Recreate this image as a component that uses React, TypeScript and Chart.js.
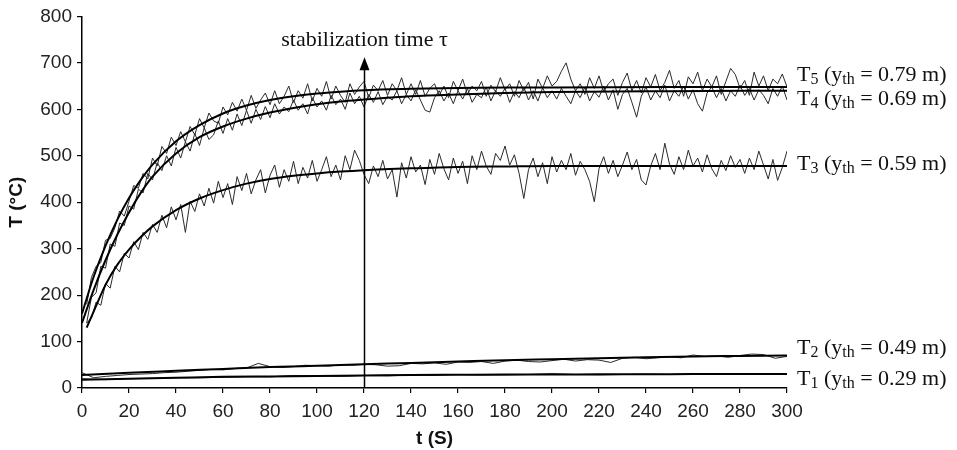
import React, { useEffect, useRef } from "react";
import { Chart, registerables } from "chart.js";

Chart.register(...registerables);

// ---------- data ----------
// measured (noisy) temperatures, sampled every 2 s from t = 2 s to t = 300 s
const NOISE_TIMES = Array.from({ length: 150 }, (_, i) => 2 + 2 * i);

const T5_NOISY = [
  180, 238, 262, 270, 318, 322, 345, 381, 370, 402,
  436, 430, 462, 450, 495, 478, 520, 505, 540, 522,
  552, 530, 563, 545, 580, 560, 592, 575, 570, 605,
  588, 615, 596, 622, 598, 630, 602, 620, 635, 610,
  640, 612, 628, 650, 615, 640, 624, 655, 618, 645,
  628, 660, 622, 650, 630, 615, 655, 632, 648, 660,
  625, 652, 640, 662, 630, 655, 640, 668, 632, 655,
  632, 662, 628, 645, 655, 630, 650, 625, 660, 640,
  665, 632, 650, 640, 660, 628, 652, 638, 668, 642,
  655, 628, 662, 640, 658, 622, 665, 645, 672, 650,
  660, 682, 700, 665, 640, 655, 632, 668, 645, 672,
  638, 655, 665, 630, 658, 678, 640, 662, 635, 668,
  648, 675, 640, 658, 684, 645, 662, 628, 670, 655,
  680, 640, 665, 648, 672, 632, 660, 688, 675, 645,
  662, 630, 680, 650, 672, 640, 665, 655, 676, 648,
];

const T4_NOISY = [
  140, 195, 205, 262, 258, 310, 305, 355, 350, 392,
  385, 428, 420, 462, 448, 485, 468, 500, 478, 518,
  495, 530, 510, 548, 522, 560, 535, 545, 575, 548,
  580, 555, 590, 565, 598, 570, 600, 578, 606, 582,
  612, 590, 605, 595, 620, 598, 612, 590, 625, 605,
  618, 598, 630, 610, 622, 600, 635, 612, 628, 605,
  632, 615, 638, 610, 628, 620, 640, 612, 632, 618,
  642, 620, 598, 594, 625, 640, 618, 635, 612, 640,
  622, 645, 615, 632, 625, 648, 618, 640, 628, 645,
  615, 638, 625, 648, 620, 640, 618, 646, 625, 640,
  622, 645, 628, 612, 640, 625, 648, 618, 638, 626,
  650, 620, 642, 600, 632, 645, 615, 583, 628, 648,
  620, 640, 625, 652, 618, 640, 628, 650, 622, 642,
  612, 596, 635, 648, 625, 645, 618, 640, 628, 652,
  630, 645, 620, 642, 630, 612, 645, 628, 650, 620,
];

const T3_NOISY = [
  140, 150, 185, 178, 225, 215, 262, 250, 290, 280,
  315, 298, 335, 320, 352, 335, 372, 345, 390, 362,
  395, 335, 402, 380, 418, 392, 430, 398, 445, 410,
  440, 395, 455, 425, 462, 418, 448, 470, 420, 458,
  480, 432, 470, 445, 488, 440, 475, 452, 490, 445,
  470, 498, 455, 480, 448, 500, 470, 512, 490, 460,
  440, 478, 455, 490, 450, 470, 411, 485, 452, 498,
  465, 480, 438, 492, 460, 505, 472, 448, 495, 462,
  488, 440, 500, 470, 510, 478, 460, 505, 490, 521,
  480, 502, 462, 408, 470, 495, 455, 485, 440, 498,
  465, 490, 470, 505, 458, 488, 470, 445, 401, 472,
  498, 462, 490, 455, 480, 508, 470, 492, 448, 437,
  478, 505, 470, 527, 482, 460, 498, 470, 512, 478,
  495, 465, 502, 472, 455, 490, 468, 500, 475, 492,
  462, 495, 470, 510, 480, 450, 492, 447, 475, 510,
];

// low thermocouples, sampled every 5 s / 10 s
const T2_NOISY_TIMES = Array.from({ length: 61 }, (_, i) => 5 * i);
const T2_NOISY = [
  33, 22, 25, 27, 29, 30, 31, 33, 34, 36,
  38, 40, 39, 42, 43, 53, 46, 44, 46, 49,
  48, 47, 50, 49, 51, 50, 47, 48, 53, 52,
  54, 51, 56, 55, 57, 53, 58, 60, 57, 56,
  59, 62, 58, 61, 60, 55, 64, 66, 63, 65,
  67, 65, 71, 68, 69, 66, 70, 73, 72, 64,
  68,
];
const T1_NOISY_TIMES = Array.from({ length: 31 }, (_, i) => 10 * i);
const T1_NOISY = [
  20, 18, 20, 21, 22, 22, 23, 24, 24, 27,
  26, 25, 27, 26, 28, 27, 29, 28, 28, 29,
  31, 29, 28, 29, 30, 29, 30, 30, 29, 30,
  30,
];

// fitted curves
const FIT_TIMES = [0, 5, 10, 15, 20, 25, 30, 40, 50, 60, 70, 80, 90, 100, 110, 120, 140, 160, 180, 200, 250, 300];
const T5_FIT = [160, 240, 306, 362, 409, 448, 481, 531, 566, 591, 608, 620, 628, 634, 638, 641, 644, 646, 647, 647, 648, 648];
const T4_FIT = [140, 212, 275, 330, 378, 420, 455, 505, 540, 563, 580, 593, 603, 611, 617, 621, 628, 632, 635, 637, 639, 640];
const T3_FIT_TIMES = [2, 5, 10, 15, 20, 25, 30, 40, 50, 60, 70, 80, 90, 100, 110, 120, 140, 160, 180, 200, 250, 300];
const T3_FIT = [130, 165, 222, 265, 298, 325, 348, 383, 408, 426, 440, 450, 457, 462, 466, 469, 473, 476, 477, 478, 478, 478];
const LOW_FIT_TIMES = [0, 20, 40, 60, 80, 100, 120, 140, 160, 180, 200, 220, 240, 260, 280, 300];
const T2_FIT = [28, 33, 37, 41, 45, 48, 51, 54, 57, 60, 62, 64, 66, 68, 69, 70];
const T1_FIT = [18, 20, 22, 24, 25, 26, 27, 28, 28.5, 29, 29, 29.5, 29.5, 30, 30, 30];

// axis / annotation text
const X_MIN = 0;
const X_MAX = 300;
const X_STEP = 20;
const Y_MIN = 0;
const Y_MAX = 800;
const Y_STEP = 100;
const X_TITLE = "t (S)";
const Y_TITLE = "T (°C)";
const STAB_TIME = 120;
const STAB_TEXT = "stabilization time τ";
const SERIES_INDEX = ["5", "4", "3", "2", "1"];
const SERIES_HEIGHT = ["0.79", "0.69", "0.59", "0.49", "0.29"];
const SERIES_LABEL_AT = [677, 624, 484, 88, 21];

const pts = (xs: number[], ys: number[]) => ys.map((v, i) => ({ x: xs[i], y: v }));

const SERIF = '"Liberation Serif", "Times New Roman", serif';
const SANS = '"Liberation Sans", Arial, sans-serif';

const annotations = {
  id: "annotations",
  afterDatasetsDraw(chart: any) {
    const { ctx, chartArea, scales } = chart;
    const x = scales.x;
    const y = scales.y;
    ctx.save();
    // stabilization arrow
    const ax = Math.round(x.getPixelForValue(STAB_TIME)) + 0.5;
    const tipY = y.getPixelForValue(712);
    ctx.strokeStyle = "#000";
    ctx.lineWidth = 1.5;
    ctx.beginPath();
    ctx.moveTo(ax, chartArea.bottom);
    ctx.lineTo(ax, tipY + 10);
    ctx.stroke();
    ctx.fillStyle = "#000";
    ctx.beginPath();
    ctx.moveTo(ax, tipY);
    ctx.lineTo(ax - 5, tipY + 13);
    ctx.lineTo(ax + 5, tipY + 13);
    ctx.closePath();
    ctx.fill();
    ctx.fillStyle = "#111";
    ctx.font = `22px ${SERIF}`;
    ctx.textAlign = "center";
    ctx.textBaseline = "middle";
    ctx.fillText(STAB_TEXT, ax, y.getPixelForValue(748));

    // series labels with subscripts
    ctx.textAlign = "left";
    ctx.textBaseline = "alphabetic";
    const big = `22px ${SERIF}`;
    const small = `16px ${SERIF}`;
    SERIES_INDEX.forEach((idx, i) => {
      const parts = [
        { t: "T", s: false },
        { t: idx, s: true },
        { t: " (y", s: false },
        { t: "th", s: true },
        { t: ` = ${SERIES_HEIGHT[i]} m)`, s: false },
      ];
      let px = chartArea.right + 10;
      const base = y.getPixelForValue(SERIES_LABEL_AT[i]) + 7;
      parts.forEach((p) => {
        ctx.font = p.s ? small : big;
        ctx.fillText(p.t, px, p.s ? base + 3 : base);
        px += ctx.measureText(p.t).width;
      });
    });
    ctx.restore();
  },
};

export default function App() {
  const ref = useRef<HTMLCanvasElement | null>(null);

  useEffect(() => {
    document.body.style.margin = "0";
    const canvas = ref.current;
    if (!canvas) return;
    const noisy = (data: any[]) => ({
      data,
      borderColor: "#2a2a2a",
      borderWidth: 1,
      pointRadius: 0,
      tension: 0,
      fill: false,
    });
    const fit = (data: any[]) => ({
      data,
      borderColor: "#000",
      borderWidth: 2,
      pointRadius: 0,
      cubicInterpolationMode: "monotone",
      fill: false,
    });
    const chart = new Chart(canvas, {
      type: "line",
      data: {
        datasets: [
          fit(pts(FIT_TIMES, T5_FIT)),
          fit(pts(FIT_TIMES, T4_FIT)),
          fit(pts(T3_FIT_TIMES, T3_FIT)),
          fit(pts(LOW_FIT_TIMES, T2_FIT)),
          fit(pts(LOW_FIT_TIMES, T1_FIT)),
          noisy(pts(NOISE_TIMES, T5_NOISY)),
          noisy(pts(NOISE_TIMES, T4_NOISY)),
          noisy(pts(NOISE_TIMES, T3_NOISY)),
          noisy(pts(T2_NOISY_TIMES, T2_NOISY)),
          noisy(pts(T1_NOISY_TIMES, T1_NOISY)),
        ] as any,
      },
      options: {
        responsive: false,
        animation: false,
        layout: { padding: { top: 15, right: 170, left: 0, bottom: 0 } },
        plugins: {
          legend: { display: false },
          tooltip: { enabled: false },
        },
        scales: {
          x: {
            type: "linear",
            min: X_MIN,
            max: X_MAX,
            afterFit: (s: any) => {
              s.height = 62;
            },
            ticks: {
              stepSize: X_STEP,
              color: "#222",
              font: { family: SANS, size: 19 },
              padding: 7,
              maxRotation: 0,
            },
            grid: {
              display: true,
              drawOnChartArea: false,
              drawTicks: true,
              tickLength: 5,
              color: "#000",
              lineWidth: 1.2,
            },
            border: { display: true, color: "#000", width: 1.5 },
            title: {
              display: true,
              text: X_TITLE,
              color: "#111",
              font: { family: SANS, size: 19, weight: "bold" },
              padding: { top: 0, bottom: 0 },
            },
          },
          y: {
            type: "linear",
            min: Y_MIN,
            max: Y_MAX,
            afterFit: (s: any) => {
              s.width = 82;
            },
            ticks: {
              stepSize: Y_STEP,
              color: "#222",
              font: { family: SANS, size: 19 },
              padding: 5,
            },
            grid: {
              display: true,
              drawOnChartArea: false,
              drawTicks: true,
              tickLength: 5,
              color: "#000",
              lineWidth: 1.2,
            },
            border: { display: true, color: "#000", width: 1.5 },
            title: {
              display: true,
              text: Y_TITLE,
              color: "#111",
              font: { family: SANS, size: 19, weight: "bold" },
              padding: { top: 5, bottom: 0 },
            },
          },
        },
      },
      plugins: [annotations as any],
    });
    return () => chart.destroy();
  }, []);

  return (
    <div style={{ position: "absolute", left: 0, top: 0, width: 957, height: 450, background: "#fff" }}>
      <canvas ref={ref} width={957} height={450} style={{ width: 957, height: 450, display: "block" }} />
    </div>
  );
}
